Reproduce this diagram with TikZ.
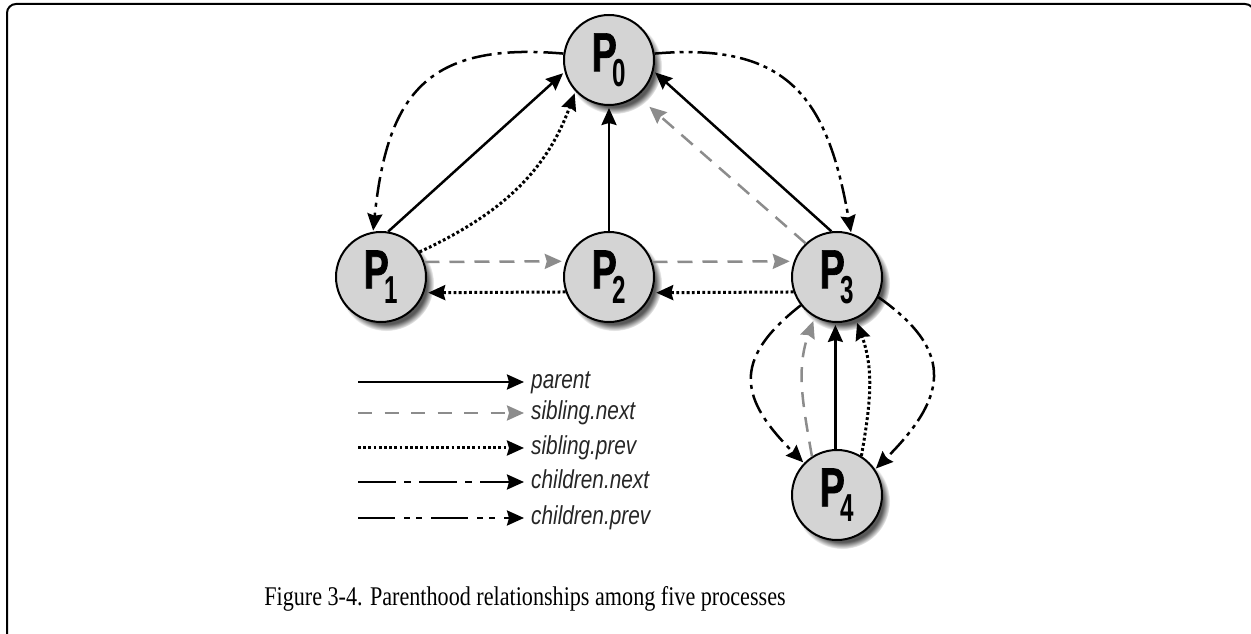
\documentclass[tikz,border=0pt]{standalone}
\usepackage{fontspec}
\setmainfont{Liberation Serif}
\newfontfamily\pfont[FakeStretch=0.68,FakeBold=1.2]{Liberation Sans}
\newfontfamily\dfont[FakeStretch=0.62]{Liberation Sans}
\newfontfamily\lfont[FakeStretch=0.80]{Liberation Sans}
\newfontfamily\capfont[FakeStretch=0.82]{Liberation Serif}
\usetikzlibrary{arrows.meta,shadows}
\newcommand\plabel[1]{{\pfont\bfseries\fontsize{55}{55}\selectfont P}\kern-4pt\raisebox{-15pt}{\dfont\bfseries\fontsize{39}{39}\selectfont #1}}
\begin{document}
\begin{tikzpicture}[x=1pt,y=1pt,
  proc/.style={circle, draw=black, line width=2pt, fill=black!17, minimum size=90pt, inner sep=0pt,
    circular drop shadow={shadow xshift=5pt, shadow yshift=-6pt, shadow scale=1.06, fill=black!65}},
  tip/.style={-{Stealth[length=17pt,width=15pt,inset=2pt]}},
  parentln/.style={tip, line width=2.5pt, draw=black},
  snext/.style={tip, line width=2.5pt, draw=black!45, dash pattern=on 15pt off 10pt},
  sprev/.style={tip, line width=3pt, draw=black, dash pattern=on 2.8pt off 2.4pt},
  cnext/.style={tip, line width=2.5pt, draw=black, dash pattern=on 20pt off 6pt on 4pt off 6pt},
  cprev/.style={tip, line width=2.5pt, draw=black, dash pattern=on 20pt off 5pt on 4pt off 5pt on 4pt off 5pt},
  lsnext/.style={tip, line width=2.5pt, draw=black!45, dash pattern=on 14pt off 12.5pt},
  lcnext/.style={tip, line width=2.5pt, draw=black, dash pattern=on 38pt off 8pt on 7pt off 8pt},
  lcprev/.style={tip, line width=2.5pt, draw=black, dash pattern=on 37pt off 9pt on 6pt off 6pt on 6pt off 9pt},
  legtext/.style={font=\lfont\itshape\fontsize{26}{26}\selectfont, text=black!85, inner sep=0pt, anchor=base west},
  frame/.style={line width=2pt, draw=black, rounded corners=9pt}
]
\useasboundingbox (0,0) rectangle (1251,634);

% frame
\coordinate (f1) at (7,-10);
\coordinate (f2) at (7,630);
\coordinate (f3) at (1254,630);
\coordinate (f4) at (1254,590);
\draw[frame] (f1) -- (f2) -- (f3) -- (f4);

% processes
\node[proc] (P0) at (609,574) {\plabel{0}};
\node[proc] (P1) at (381,357) {\plabel{1}};
\node[proc] (P2) at (609,357) {\plabel{2}};
\node[proc] (P3) at (837,357) {\plabel{3}};
\node[proc] (P4) at (837,139) {\plabel{4}};

% parent links
\draw[parentln, shorten >=2pt] (P1.81) -- (P0.195);
\draw[parentln, shorten >=2pt] (P2.north) -- (P0.south);
\draw[parentln, shorten >=2pt] (P3.97) -- (P0.-14);
\draw[parentln, shorten >=2pt] (P4.92) -- (P3.268);

% children arcs
\draw[cnext, shorten >=1pt] (P0.172) to[out=175, in=84, looseness=1.35] (P1.100);
\draw[cprev, shorten >=1pt] (P0.8) to[out=5, in=100, looseness=1.3] (P3.72);
\draw[cnext, shorten >=1pt] (P3.218) to[out=218, in=135, looseness=1.45] (P4.136);
\draw[cprev, shorten >=1pt] (P3.334) to[out=-35, in=45, looseness=1.45] (P4.34);

% sibling links
\draw[snext, shorten >=4pt] (P1.19.5) -- (P2.160.5);
\draw[snext, shorten >=4pt] (P2.19.5) -- (P3.160.5);
\draw[sprev, shorten >=4pt] (P2.199.5) -- (P1.340.5);
\draw[sprev, shorten >=4pt] (P3.199.5) -- (P2.340.5);
\draw[snext, shorten >=16pt] (P3.133) -- (P0.-52);
\draw[sprev, shorten >=2pt] (P1.33) to[out=25, in=250] (P0.223);
\draw[snext, shorten >=4pt] (P4.123) to[out=100, in=250] (P3.241);
\draw[sprev, shorten >=4pt] (P4.58) to[out=80, in=290] (P3.294);

% legend
\coordinate (ls1) at (358,252); \coordinate (le1) at (524,252);
\coordinate (ls2) at (358,221); \coordinate (le2) at (524,221);
\coordinate (ls3) at (358,186); \coordinate (le3) at (524,186);
\coordinate (ls4) at (358,152); \coordinate (le4) at (524,152);
\coordinate (ls5) at (358,116); \coordinate (le5) at (524,116);
\draw[parentln] (ls1) -- (le1);
\draw[lsnext] (ls2) -- (le2);
\draw[sprev] (ls3) -- (le3);
\draw[lcnext] (ls4) -- (le4);
\draw[lcprev] (ls5) -- (le5);
\node[legtext] (t1) at (531,245) {parent};
\node[legtext] (t2) at (531,214) {sibling.next};
\node[legtext] (t3) at (531,179) {sibling.prev};
\node[legtext] (t4) at (531,145) {children.next};
\node[legtext] (t5) at (531,109) {children.prev};

% caption
\node[font=\capfont\fontsize{27}{27}\selectfont, anchor=base, inner sep=0pt] (cap) at (525,28)
  {Figure 3-4. Parenthood relationships among five processes};
\end{tikzpicture}
\end{document}
